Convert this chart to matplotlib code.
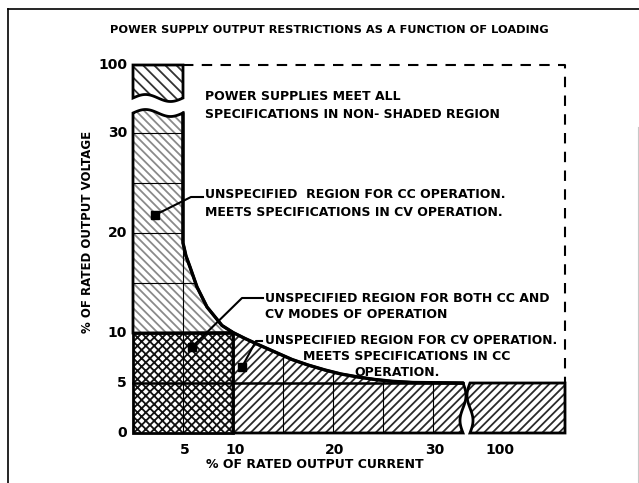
import numpy as np
import matplotlib.pyplot as plt
from matplotlib.patches import Polygon
from matplotlib.lines import Line2D

plt.rcParams['font.family'] = ['DejaVu Sans']
plt.rcParams['font.weight'] = 'bold'
plt.rcParams['hatch.linewidth'] = 1.3

# axis ticks (% of rated values)
current_ticks = [5, 10, 20, 30]
voltage_ticks = [0, 5, 10, 20, 30]
grid_steps = [5, 10, 15, 20, 25, 30]

# broken axes: where the "100 %" part is drawn
current_break = 33.0
current_100 = 36.7
current_end = 43.2
voltage_break = 32.0
voltage_100_low = 33.5
voltage_100 = 36.8

# boundary of the specified (non-shaded) region
curve_current = [5.0, 5.0, 5.3, 5.7, 6.4, 7.4, 8.9, 10.0, 11.2, 12.5, 14.2,
                 15.9, 17.5, 19.2, 20.8, 22.5, 24.2, 25.9, 28.0, 33.0]
curve_voltage = [32.0, 19.0, 17.7, 16.6, 14.6, 12.6, 10.75, 10.05, 9.45, 8.85,
                 8.1, 7.35, 6.8, 6.3, 5.9, 5.6, 5.35, 5.17, 5.05, 5.0]

# annotation leader lines: text end -> bend -> marker
cc_leader = ([7.0, 5.8, 2.2], [23.6, 23.6, 21.8])
both_leader = ([13.0, 10.9, 5.9], [13.5, 13.5, 8.6])
cv_leader = ([12.9, 12.3, 10.9], [9.2, 9.2, 6.6])


def wave_h(x0, x1, base, amp=0.35, n=40):
    t = np.linspace(0, 1, n)
    return list(zip(x0 + (x1 - x0) * t, base + amp * np.sin(2 * np.pi * t)))


def wave_v(x, y0, y1, amp=0.3, n=30):
    t = np.linspace(0, 1, n)
    return list(zip(x + amp * np.sin(2 * np.pi * t), y0 + (y1 - y0) * t))


fig = plt.figure(figsize=(6.39, 4.83), dpi=100)
ax = fig.add_axes([0, 0, 1, 1])
ax.set_xlim(-13.3, 50.6)
ax.set_ylim(-5, 43.3)
ax.axis('off')

cur = np.array(curve_current)
vol = np.array(curve_voltage)

# regions
cc_pts = [(0, 10)] + wave_h(0, 5, voltage_break) + \
    [(c, v) for c, v in zip(cur, vol) if c <= 10] + [(0, 10)]
both_pts = [(0, 0), (0, 10), (10, 10), (10, 0)]
cv_pts = [(10, 0), (10, 10)] + [(c, v) for c, v in zip(cur, vol) if c >= 10] + \
    wave_v(current_break, 5, 0)
top_pts = wave_h(0, 5, voltage_100_low) + [(5, voltage_100), (0, voltage_100)]
right_pts = wave_v(current_break + 0.7, 0, 5) + [(current_end, 5), (current_end, 0)]

regions = [
    (cc_pts, '\\\\\\\\', '#8a8a8a'),
    (top_pts, '\\\\\\', '#333333'),
    (both_pts, 'xxxx', '#111111'),
    (cv_pts, '////', '#2a2a2a'),
    (right_pts, '////', '#2a2a2a'),
]

for pts, hatch, hc in regions:
    patch = Polygon(pts, closed=True, facecolor='white', edgecolor=hc,
                    hatch=hatch, lw=0, zorder=1)
    ax.add_patch(patch)
    for g in grid_steps:
        lv, = ax.plot([g, g], [0, 40], color='black', lw=0.8, zorder=2)
        lv.set_clip_path(patch)
        lh, = ax.plot([0, 45], [g, g], color='black', lw=0.8, zorder=2)
        lh.set_clip_path(patch)
    ax.add_patch(Polygon(pts, closed=True, fill=False, edgecolor='black',
                         lw=2, zorder=3))

ax.plot([0, current_break], [5, 5], color='black', lw=1.8, zorder=3)
ax.plot(cur, vol, color='black', lw=2.4, zorder=4, solid_capstyle='round')

# dashed limit of the specified region
ax.plot([5, current_end, current_end], [voltage_100, voltage_100, 5],
        color='black', lw=1.5, ls=(0, (5, 4)), zorder=3)

# tick labels
for c in current_ticks:
    ax.text(c + 0.2, -1.7, str(c), ha='center', va='center', fontsize=10)
ax.text(current_100, -1.7, '100', ha='center', va='center', fontsize=10)
for v in voltage_ticks:
    ax.text(-0.6, v, str(v), ha='right', va='center', fontsize=10)
ax.text(-0.6, voltage_100, '100', ha='right', va='center', fontsize=10)

ax.text(18.2, -3.2, '% OF RATED OUTPUT CURRENT', ha='center', va='center',
        fontsize=9)
ax.text(-4.6, 20.1, '% OF RATED OUTPUT VOLTAGE', ha='center', va='center',
        fontsize=8.5, rotation=90)
ax.text(19.6, 40.3, 'POWER SUPPLY OUTPUT RESTRICTIONS AS A FUNCTION OF LOADING',
        ha='center', va='center', fontsize=8.2)

# annotations
ann = dict(fontsize=9, va='center')
ax.text(7.2, 33.7, 'POWER SUPPLIES MEET ALL', ha='left', **ann)
ax.text(7.2, 31.9, 'SPECIFICATIONS IN NON- SHADED REGION', ha='left', **ann)
ax.text(7.2, 23.8, 'UNSPECIFIED  REGION FOR CC OPERATION.', ha='left', **ann)
ax.text(7.2, 22.1, 'MEETS SPECIFICATIONS IN CV OPERATION.', ha='left', **ann)
ax.text(13.2, 13.5, 'UNSPECIFIED REGION FOR BOTH CC AND', ha='left', **ann)
ax.text(13.2, 11.8, 'CV MODES OF OPERATION', ha='left', **ann)
ax.text(13.2, 9.3, 'UNSPECIFIED REGION FOR CV OPERATION.', ha='left',
        fontsize=8.8, va='center')
ax.text(27.4, 7.6, 'MEETS SPECIFICATIONS IN CC', ha='center', **ann)
ax.text(26.4, 6.1, 'OPERATION.', ha='center', **ann)

for xs, ys in [cc_leader, both_leader, cv_leader]:
    ax.plot(xs, ys, color='black', lw=1.5, zorder=5)
    ax.plot(xs[-1], ys[-1], marker='s', color='black', ms=6, zorder=5)

# scanned page frame
fig.add_artist(Line2D([8 / 639, 1], [1 - 9 / 483, 1 - 9 / 483],
                      color='black', lw=1.2))
fig.add_artist(Line2D([8 / 639, 8 / 639], [0, 1 - 9 / 483],
                      color='black', lw=1.2))
fig.add_artist(Line2D([638 / 639, 638 / 639], [0, 1 - 127 / 483],
                      color='#c8c8c8', lw=0.8))

fig.savefig('out.png', dpi=100)
